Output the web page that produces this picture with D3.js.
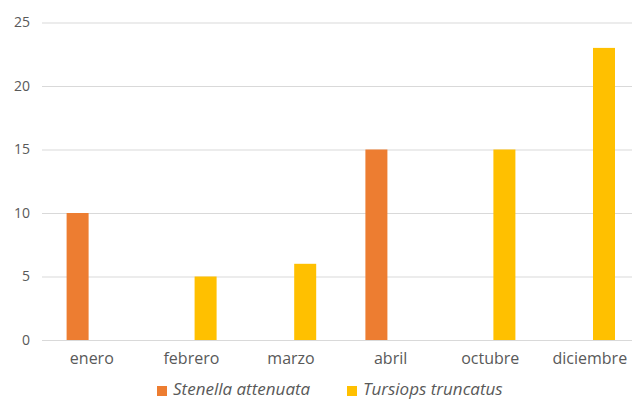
<!DOCTYPE html>
<html>
<head>
<meta charset="utf-8">
<script src="https://cdn.jsdelivr.net/npm/d3@7"></script>
<style>
  html, body { margin: 0; padding: 0; background: #fff; }
  svg { display: block; }
</style>
</head>
<body>
<svg id="chart" width="632" height="400"></svg>
<script>
const months = ["enero", "febrero", "marzo", "abril", "octubre", "diciembre"];
const seriesNames = ["Stenella attenuata", "Tursiops truncatus"];
const stenella = [10, null, null, 15, null, null];
const tursiops = [null, 5, 6, null, 15, 23];
const yTicks = [0, 5, 10, 15, 20, 25];
const colors = ["#ED7D31", "#FFC000"];

(function () {
const svg = d3.select("#chart");
const W = 632, H = 400;
const mLeft = 42, mRight = 639.6, mTop = 22.5, mBottom = 340;

const y = d3.scaleLinear().domain([0, 25]).range([mBottom, mTop]);
const x0 = d3.scaleBand().domain(months).range([mLeft, mRight]).paddingInner(0).paddingOuter(0);
const half = 25.2;
const x1 = d3.scaleBand().domain(seriesNames).range([-half, half]).paddingInner(0.225).paddingOuter(0);

const font = "'Open Sans', sans-serif";
const txt = "#595959";

// gridlines
const grid = d3.axisLeft(y).tickValues(yTicks).tickSize(-(W - mLeft)).tickFormat("");
svg.append("g").attr("transform", `translate(${mLeft},0)`).call(grid)
  .call(g => g.select(".domain").remove())
  .call(g => g.selectAll("line").attr("stroke", "#d9d9d9").attr("stroke-width", 1));

// y labels
const yAxis = d3.axisLeft(y).tickValues(yTicks).tickSize(0).tickPadding(12);
svg.append("g").attr("transform", `translate(${mLeft},0)`).call(yAxis)
  .call(g => g.select(".domain").remove())
  .call(g => g.selectAll("text").attr("fill", txt).style("font-family", font).style("font-size", "14px"));

// bars
const data = [];
months.forEach((m, i) => {
  [stenella[i], tursiops[i]].forEach((v, j) => {
    if (v != null) data.push({ month: m, series: seriesNames[j], value: v, color: colors[j] });
  });
});
svg.append("g").selectAll("rect").data(data).join("rect")
  .attr("x", d => x0(d.month) + x0.bandwidth() / 2 + x1(d.series))
  .attr("width", x1.bandwidth())
  .attr("y", d => y(d.value))
  .attr("height", d => y(0) - y(d.value))
  .attr("fill", d => d.color);

// x labels
const xAxis = d3.axisBottom(x0).tickSize(0).tickPadding(13);
svg.append("g").attr("transform", `translate(0,${mBottom})`).call(xAxis)
  .call(g => g.select(".domain").remove())
  .call(g => g.selectAll("text").attr("fill", txt).style("font-family", font).style("font-size", "16px"));

// legend
const legendItems = [
  { name: seriesNames[0], color: colors[0], x: 157 },
  { name: seriesNames[1], color: colors[1], x: 347 }
];
const lg = svg.append("g");
legendItems.forEach(it => {
  lg.append("rect").attr("x", it.x).attr("y", 386).attr("width", 10).attr("height", 10).attr("fill", it.color);
  lg.append("text").attr("x", it.x + 16).attr("y", 395)
    .attr("fill", txt).style("font-family", font).style("font-size", "17px").style("font-style", "italic")
    .text(it.name);
});
})();
</script>
</body>
</html>
